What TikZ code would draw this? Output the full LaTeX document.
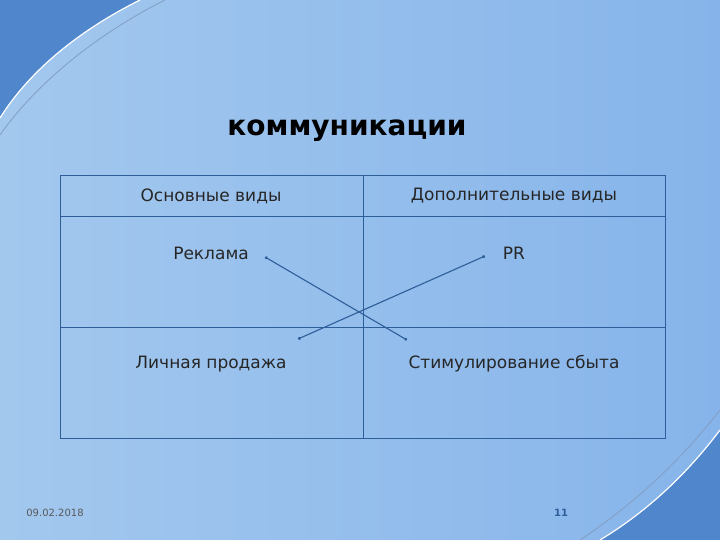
\documentclass[tikz,border=0pt]{standalone}
\usepackage{fontspec}
\usetikzlibrary{arrows.meta}
\setmainfont{DejaVu Sans}
\definecolor{bgl}{HTML}{A3C8EE}
\definecolor{bgr}{HTML}{86B4EA}
\definecolor{corner}{HTML}{4F86CC}
\definecolor{ln}{HTML}{2E5E9A}
\begin{document}
\begin{tikzpicture}[x=1pt,y=-1pt,
  tl/.style={draw=ln, line width=0.7pt},
  cl/.style={draw=ln, line width=1.1pt, {Circle[length=3pt]}-{Circle[length=3pt]}},
  tx/.style={font=\fontsize{17}{20}\selectfont, text=black!85}]
\useasboundingbox (0,0) rectangle (720,540);
\shade[left color=bgl, right color=bgr] (0,0) rectangle (720,540);
\fill[corner] (0,0) -- (140,0) .. controls (80,30) and (30,70) .. (0,118) -- cycle;
\draw[white, line width=1.2pt] (140,0) .. controls (80,30) and (30,70) .. (0,118);
\draw[ln!60, line width=0.8pt] (165,0) .. controls (95,35) and (35,85) .. (0,135);
\fill[corner] (720,540) -- (720,430) .. controls (690,470) and (650,510) .. (600,540) -- cycle;
\draw[white, line width=1.2pt] (720,430) .. controls (690,470) and (650,510) .. (600,540);
\draw[ln!60, line width=0.8pt] (720,410) .. controls (685,455) and (640,500) .. (580,540);
\node[font=\bfseries\fontsize{28}{32}\selectfont] (title) at (347,131) {коммуникации};
\draw[tl] (60,175) rectangle (665,438);
\draw[tl] (60,216) -- (665,216);
\draw[tl] (60,327) -- (665,327);
\draw[tl] (363,175) -- (363,438);
\node[tx] (h1) at (211,196) {Основные виды};
\node[tx] (h2) at (514,196) {Дополнительные виды};
\node[tx] (a) at (211,253) {Реклама};
\node[tx] (b) at (514,253) {PR};
\node[tx] (c) at (211,364) {Личная продажа};
\node[tx] (d) at (514,364) {Стимулирование сбыта};
\coordinate (p1) at (265,257); \coordinate (p2) at (407,340);
\coordinate (q1) at (298,339); \coordinate (q2) at (485,256);
\draw[cl] (p1) -- (p2);
\draw[cl] (q1) -- (q2);
\node[font=\fontsize{10}{12}\selectfont, text=black!65] (date) at (55,513) {09.02.2018};
\node[font=\bfseries\fontsize{10}{12}\selectfont, text=ln] (pg) at (561,513) {11};
\end{tikzpicture}
\end{document}
